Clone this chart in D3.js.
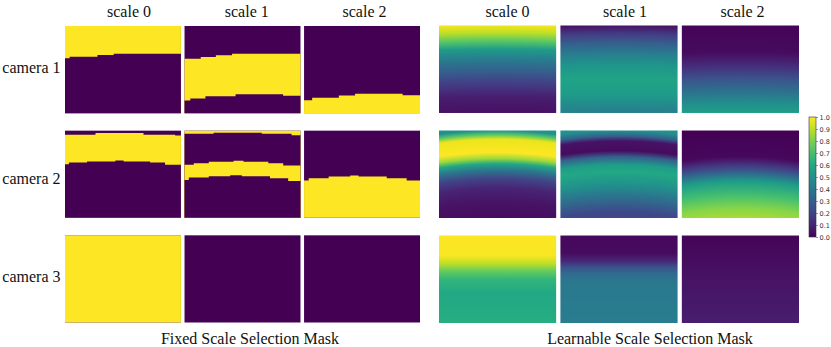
<!DOCTYPE html>
<meta charset="utf-8">
<script src="https://d3js.org/d3.v7.min.js"></script>
<style>
  body { margin: 0; background: #fff; }
  .lbl { font-family: "Liberation Serif", "Times New Roman", serif; font-size: 16px; fill: #111; }
  .cbar text { font-family: "DejaVu Sans", sans-serif; font-size: 6.5px; fill: #333; }
</style>
<div id="my_dataviz"></div>
<script>

// ---------------- data ----------------
var cameras = ['camera 1', 'camera 2', 'camera 3'];
var scales = ['scale 0', 'scale 1', 'scale 2'];
var captions = ['Fixed Scale Selection Mask', 'Learnable Scale Selection Mask'];
var cbarTicks = [0, .1, .2, .3, .4, .5, .6, .7, .8, .9, 1];

// fixed masks: yellow bands, edges are steps [x fraction, y fraction]
var cam1S0Bot = [[0, .37], [.04, .352], [.28, .333], [.42, .318]];
var cam1S1Top = [[0, .375], [.14, .355], [.27, .336], [.41, .318]];
var cam1S1Bot = [[0, .854], [.05, .831], [.18, .805], [.44, .782], [.85, .80]];
var cam1S2Top = [[0, .851], [.07, .824], [.30, .797], [.44, .778], [.85, .793]];

var cam2S0Top = [[0, .046], [.263, .027], [.677, .046], [.95, .055]];
var cam2S0Bot = [[0, .385], [.034, .365], [.19, .354], [.434, .342], [.506, .354], [.734, .365], [.863, .392]];
var cam2S1Bot1 = [[0, .035], [.251, .023], [.666, .035], [.923, .054]];
var cam2S1Top2 = [[0, .392], [.08, .373], [.209, .358], [.423, .346], [.509, .358], [.723, .373], [.851, .40]];
var cam2S1Bot2 = [[0, .565], [.037, .538], [.209, .523], [.394, .512], [.494, .523], [.737, .546], [.894, .577]];
var cam2S2Top = [[0, .573], [.04, .546], [.212, .527], [.398, .515], [.47, .527], [.713, .546], [.885, .573]];

var panelTop = [[0, 0]];

var fixedMasks = [
  [[{top: panelTop, bot: cam1S0Bot}], [{top: cam1S1Top, bot: cam1S1Bot}], [{top: cam1S2Top, bot: null}]],
  [[{top: cam2S0Top, bot: cam2S0Bot}], [{top: panelTop, bot: cam2S1Bot1}, {top: cam2S1Top2, bot: cam2S1Bot2}], [{top: cam2S2Top, bot: null}]],
  [[{top: panelTop, bot: null}], [], []]
];

// learnable masks: vertical profile [y fraction, mask value]
var learnCam1S0 = [[0, .98], [.08, .9], [.17, .75], [.27, .55], [.38, .42], [.52, .3], [.66, .18], [.82, .08], [1, .04]];
var learnCam1S1 = [[0, .05], [.1, .18], [.2, .3], [.32, .42], [.45, .52], [.6, .58], [.78, .55], [.9, .48], [1, .42]];
var learnCam1S2 = [[0, .01], [.3, .03], [.45, .12], [.6, .25], [.75, .37], [.9, .5], [1, .56]];
var learnCam2S0 = [[0, .5], [.05, .75], [.1, .97], [.25, 1], [.32, .85], [.38, .6], [.45, .4], [.55, .2], [.66, .1], [.82, .05], [1, .03]];
var learnCam2S1 = [[0, .5], [.065, .3], [.12, .05], [.23, .03], [.3, .3], [.39, .55], [.47, .6], [.62, .5], [.78, .35], [.93, .22], [1, .2]];
var learnCam2S2 = [[0, 0], [.3, .02], [.39, .15], [.47, .3], [.58, .55], [.74, .7], [.89, .82], [1, .87]];
var learnCam3S0 = [[0, 1], [.23, .99], [.32, .9], [.4, .77], [.5, .66], [.65, .6], [1, .62]];
var learnCam3S1 = [[0, .02], [.2, .03], [.3, .12], [.36, .25], [.44, .35], [.53, .4], [1, .42]];
var learnCam3S2 = [[0, .01], [.5, .05], [1, .08]];

var learnMasks = [
  [learnCam1S0, learnCam1S1, learnCam1S2],
  [learnCam2S0, learnCam2S1, learnCam2S2],
  [learnCam3S0, learnCam3S1, learnCam3S2]
];
// arch of the learnable bands (px sag across a panel)
var learnSag = [1, 4, 0];

// ---------------- layout ----------------
var width = 831, height = 347;
var color = d3.scaleSequential(d3.interpolateViridis).domain([0, 1]);

var svg = d3.select('#my_dataviz').append('svg')
  .attr('width', width).attr('height', height);
var defs = svg.append('defs');

var xFixed = d3.scaleBand().domain([0, 1, 2]).range([65, 420]).paddingInner(0.03);
var xLearn = d3.scaleBand().domain([0, 1, 2]).range([439, 799]).paddingInner(0.035);
var yFixed = d3.scaleBand().domain([0, 1, 2]).range([26, 322.5]).paddingInner(0.167);
var yLearn = d3.scaleBand().domain([0, 1, 2]).range([25.5, 323]).paddingInner(0.167);
var titleFixed = d3.scalePoint().domain([0, 1, 2]).range([129, 364.5]);
var titleLearn = d3.scalePoint().domain([0, 1, 2]).range([507.5, 742.5]);

// ---------------- fixed masks ----------------
cameras.forEach(function(cam, r) {
  scales.forEach(function(sc, c) {
    var x0 = xFixed(c), y0 = yFixed(r);
    var fx = d3.scaleLinear().domain([0, 1]).range([x0, x0 + xFixed.bandwidth()]);
    var fy = d3.scaleLinear().domain([0, 1]).range([y0, y0 + yFixed.bandwidth()]);
    var g = svg.append('g');
    g.append('rect')
      .attr('x', fx(0)).attr('y', fy(0))
      .attr('width', fx(1) - fx(0)).attr('height', fy(1) - fy(0))
      .attr('fill', color(0));

    var area = d3.area().curve(d3.curveStepAfter)
      .x(function(d) { return fx(d[0]); })
      .y0(function(d) { return fy(d[1]); })
      .y1(fy(1));
    function edge(steps) { return steps.concat([[1, steps[steps.length - 1][1]]]); }

    fixedMasks[r][c].forEach(function(band) {
      g.append('path').attr('d', area(edge(band.top))).attr('fill', color(1));
      if (band.bot) g.append('path').attr('d', area(edge(band.bot))).attr('fill', color(0));
    });
  });
});

// ---------------- learnable masks ----------------
cameras.forEach(function(cam, r) {
  scales.forEach(function(sc, c) {
    var x0 = xLearn(c), y0 = yLearn(r);
    var w = xLearn.bandwidth(), h = yLearn.bandwidth();
    var id = 'lg' + r + c;
    var prof = learnMasks[r][c];
    var sag = learnSag[r];
    var grad;
    if (sag > 0) {
      var D = (w / 2) * (w / 2) / (2 * sag) + sag / 2;
      grad = defs.append('radialGradient').attr('id', id)
        .attr('gradientUnits', 'userSpaceOnUse')
        .attr('cx', x0 + w / 2).attr('cy', y0 + D).attr('r', D)
        .attr('fx', x0 + w / 2).attr('fy', y0 + D);
      prof.slice().reverse().forEach(function(p) {
        grad.append('stop').attr('offset', 1 - p[0] * h / D).attr('stop-color', color(p[1]));
      });
    } else {
      grad = defs.append('linearGradient').attr('id', id)
        .attr('x1', 0).attr('x2', 0).attr('y1', 0).attr('y2', 1);
      prof.forEach(function(p) {
        grad.append('stop').attr('offset', p[0]).attr('stop-color', color(p[1]));
      });
    }
    svg.append('rect')
      .attr('x', x0).attr('y', y0).attr('width', w).attr('height', h)
      .attr('fill', 'url(#' + id + ')');
  });
});

// ---------------- texts ----------------
scales.forEach(function(sc, c) {
  svg.append('text').attr('class', 'lbl').attr('text-anchor', 'middle')
    .attr('x', titleFixed(c)).attr('y', 16.7).text(sc);
  svg.append('text').attr('class', 'lbl').attr('text-anchor', 'middle')
    .attr('x', titleLearn(c)).attr('y', 16.7).text(sc);
});

var camBase = [73.3, 184, 281.5];
cameras.forEach(function(cam, r) {
  svg.append('text').attr('class', 'lbl').attr('text-anchor', 'end')
    .attr('x', 60.5).attr('y', camBase[r]).text(cam);
});

svg.append('text').attr('class', 'lbl').attr('text-anchor', 'middle')
  .attr('x', 250).attr('y', 344).text(captions[0]);
svg.append('text').attr('class', 'lbl').attr('text-anchor', 'middle')
  .attr('x', 650).attr('y', 344).text(captions[1]);

// ---------------- colorbar ----------------
var cb = {x: 809, y: 117, w: 7, h: 120};
var cbGrad = defs.append('linearGradient').attr('id', 'cbgrad')
  .attr('x1', 0).attr('x2', 0).attr('y1', 1).attr('y2', 0);
cbarTicks.forEach(function(t) {
  cbGrad.append('stop').attr('offset', t).attr('stop-color', color(t));
});
svg.append('rect')
  .attr('x', cb.x).attr('y', cb.y).attr('width', cb.w).attr('height', cb.h)
  .attr('fill', 'url(#cbgrad)')
  .attr('stroke', '#333').attr('stroke-width', 0.6);

var cbScale = d3.scaleLinear().domain([0, 1]).range([cb.y + cb.h, cb.y]);
var cbAxis = svg.append('g').attr('class', 'cbar')
  .attr('transform', 'translate(' + (cb.x + cb.w) + ',0)')
  .call(d3.axisRight(cbScale).tickValues(cbarTicks).tickFormat(d3.format('.1f')).tickSize(2).tickPadding(1.5));
cbAxis.select('.domain').remove();
cbAxis.selectAll('line').attr('stroke', '#333').attr('stroke-width', 0.5);

</script>
